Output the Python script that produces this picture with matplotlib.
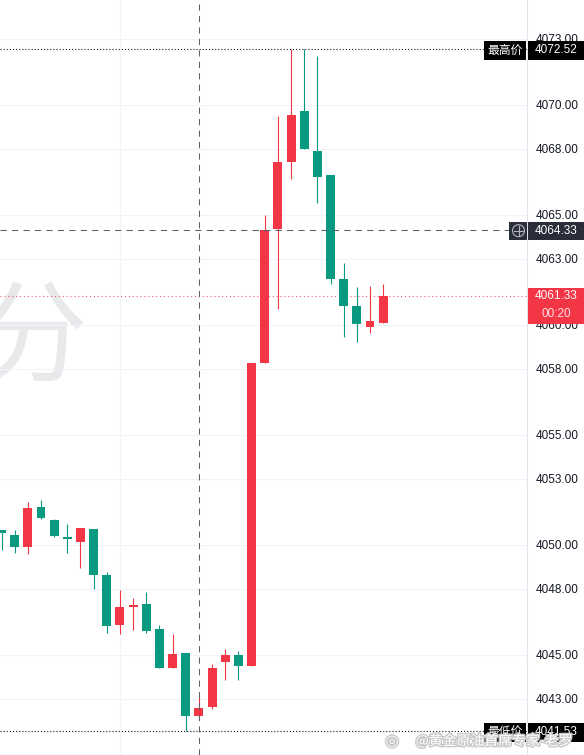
"""Gold 1-min candles with TradingView style price tags."""
import numpy as np
import matplotlib
matplotlib.use('Agg')
import matplotlib.pyplot as plt
import matplotlib.patheffects as pe
from matplotlib.patches import Rectangle, Circle
from matplotlib.lines import Line2D
from matplotlib.transforms import IdentityTransform, blended_transform_factory

# candles (oldest first)
opens = [4050.68, 4050.45, 4049.91, 4051.73, 4051.14, 4050.36, 4050.14, 4050.73, 4048.64, 4046.36,
         4047.18, 4047.32, 4046.18, 4044.41, 4045.09, 4042.23, 4042.64, 4044.68, 4045.00, 4044.50,
         4058.27, 4064.36, 4067.41, 4069.73, 4067.91, 4066.82, 4062.09, 4060.86, 4059.91, 4060.09]
highs = [4050.68, 4050.68, 4051.95, 4052.05, 4051.18, 4050.95, 4050.77, 4050.73, 4048.77, 4047.95,
         4047.59, 4047.86, 4046.36, 4045.95, 4045.09, 4043.09, 4044.59, 4045.27, 4045.18, 4058.27,
         4065.00, 4069.50, 4072.52, 4072.52, 4072.23, 4066.82, 4062.82, 4061.73, 4061.77, 4061.86]
lows = [4049.77, 4049.64, 4049.59, 4051.18, 4050.36, 4049.64, 4048.95, 4048.00, 4046.00, 4045.95,
        4046.14, 4046.00, 4044.41, 4044.41, 4041.53, 4042.05, 4042.55, 4043.86, 4043.86, 4044.50,
        4058.27, 4060.73, 4066.64, 4068.00, 4065.55, 4061.86, 4059.45, 4059.23, 4059.64, 4060.09]
closes = [4050.55, 4049.91, 4051.68, 4051.23, 4050.41, 4050.27, 4050.77, 4048.64, 4046.32, 4047.18,
          4047.27, 4046.09, 4044.41, 4045.05, 4042.23, 4042.59, 4044.41, 4045.00, 4044.50, 4058.27,
          4064.32, 4067.41, 4069.55, 4068.00, 4066.73, 4062.09, 4060.86, 4060.05, 4060.18, 4061.33]

price_ticks = [4043, 4045, 4048, 4050, 4053, 4055, 4058, 4060, 4063, 4065, 4068, 4070, 4073]
top_tick = 4075
high_price = 4072.52
low_price = 4041.53
last_price = 4061.33
cross_price = 4064.33
cross_bar = 15
grid_bar = 9
countdown = '00:20'

UP = '#f23645'
DOWN = '#089981'
W, H = 584, 755
AX_R = 527

opens, highs, lows, closes = map(np.array, (opens, highs, lows, closes))
x = np.arange(len(opens))
colors = np.where(closes >= opens, UP, DOWN)

fig = plt.figure(figsize=(W / 100, H / 100), dpi=100)
ax = fig.add_axes([0, 0, AX_R / W, 1])
ax.set_xlim(-0.114, 39.93)
ax.set_ylim(4040.45, 4074.77)

for s in ('left', 'top', 'bottom'):
    ax.spines[s].set_visible(False)
ax.spines['right'].set_color('#e0e3eb')
ax.spines['right'].set_linewidth(0.75)

ax.set_xticks([])
ax.yaxis.tick_right()
ax.set_yticks(price_ticks)
ax.set_yticklabels([f'{t:.2f}' for t in price_ticks])
ax.tick_params(axis='y', length=0, pad=6.5, labelsize=8.5, labelcolor='#131722')
for lab in ax.get_yticklabels():
    lab.set_family('Liberation Sans')
ax.grid(axis='y', color='#f0f3fa', lw=0.8)
ax.axvline(grid_bar, color='#f0f3fa', lw=0.8, zorder=0)
ax.text(1.0, top_tick, f'{top_tick:.2f}', transform=blended_transform_factory(ax.transAxes, ax.transData),
        ha='left', va='center', fontsize=8.5, family='Liberation Sans', color='#131722',
        clip_on=False).set_x(1 + 9 / AX_R)

# watermark
ax.text(32 / AX_R, 1 - 341 / H, '分', transform=ax.transAxes, ha='center', va='center',
        fontsize=80, family='Noto Sans CJK SC', color='#e9e9eb', zorder=0)

# candles
ax.vlines(x, lows, highs, color=colors, lw=0.8, zorder=2)
ax.bar(x, np.abs(closes - opens), bottom=np.minimum(opens, closes), width=0.68,
       color=colors, linewidth=0, zorder=3)

# reference lines
ax.axhline(high_price, color='#131722', lw=0.8, ls=(0, (1, 1.8)), zorder=4)
ax.axhline(low_price, color='#131722', lw=0.8, ls=(0, (1, 1.8)), zorder=4)
ax.axhline(last_price, color=UP, lw=0.8, ls=(0, (1, 2.5)), alpha=0.8, zorder=1)
ax.axhline(cross_price, color='#5d606b', lw=0.75, ls=(0, (6, 5)), zorder=5)
ax.axvline(cross_bar, color='#5d606b', lw=0.75, ls=(0, (6, 5)), zorder=5)

px = IdentityTransform()


def ypix(v):
    return ax.transData.transform((0, v))[1]


def box(x0, x1, y0, y1, color):
    fig.add_artist(Rectangle((x0, y0), x1 - x0, y1 - y0, transform=px, facecolor=color,
                             edgecolor='none', zorder=5))


def label(xc, y, s, color='white', family='Liberation Sans', size=8.5):
    fig.text(xc, y, s, transform=px, ha='center', va='center', fontsize=size,
             family=family, color=color, zorder=6)


# high / low tags
for v, name in ((high_price, '最高价'), (low_price, '最低价')):
    y = ypix(v) - 1
    box(484, 526, y - 9.5, y + 9.5, '#000000')
    box(528, W, y - 9.5, y + 9.5, '#000000')
    label(505, y, name, family='Noto Sans CJK SC', size=8.5)
    label(556, y, f'{v:.2f}')

# crosshair tag
y = ypix(cross_price) - 1
box(509, 527, y - 9, y + 9, '#2a2e39')
box(528, W, y - 9, y + 9, '#2a2e39')
fig.add_artist(Circle((518.5, y), 6, transform=px, facecolor='none', edgecolor='#b2b5be',
                      lw=0.8, zorder=6))
fig.add_artist(Line2D([514, 523], [y, y], transform=px, color='#b2b5be', lw=0.8, zorder=6))
fig.add_artist(Line2D([518.5, 518.5], [y - 4.5, y + 4.5], transform=px, color='#b2b5be',
                      lw=0.8, zorder=6))
label(556, y, f'{cross_price:.2f}')

# last price tag with countdown
y = ypix(last_price)
box(528, W, y - 28, y + 8, UP)
label(556, y, f'{last_price:.2f}')
label(556, y - 18, countdown, color='#ffe0e3')

# weibo watermark
fig.text(494 / W, 1 - 741 / H, '@黄金原油首席专家-老罗', ha='center', va='center', fontsize=10,
         family='Noto Sans CJK SC', color='white', zorder=7,
         path_effects=[pe.withStroke(linewidth=2, foreground='#c8c8c8')])
fig.text(392 / W, 1 - 741 / H, '◎', ha='center', va='center', fontsize=11,
         family='DejaVu Sans', color='white', zorder=7,
         path_effects=[pe.withStroke(linewidth=2, foreground='#c8c8c8')])

fig.savefig('out.png', dpi=100, facecolor='white')
plt.close(fig)
